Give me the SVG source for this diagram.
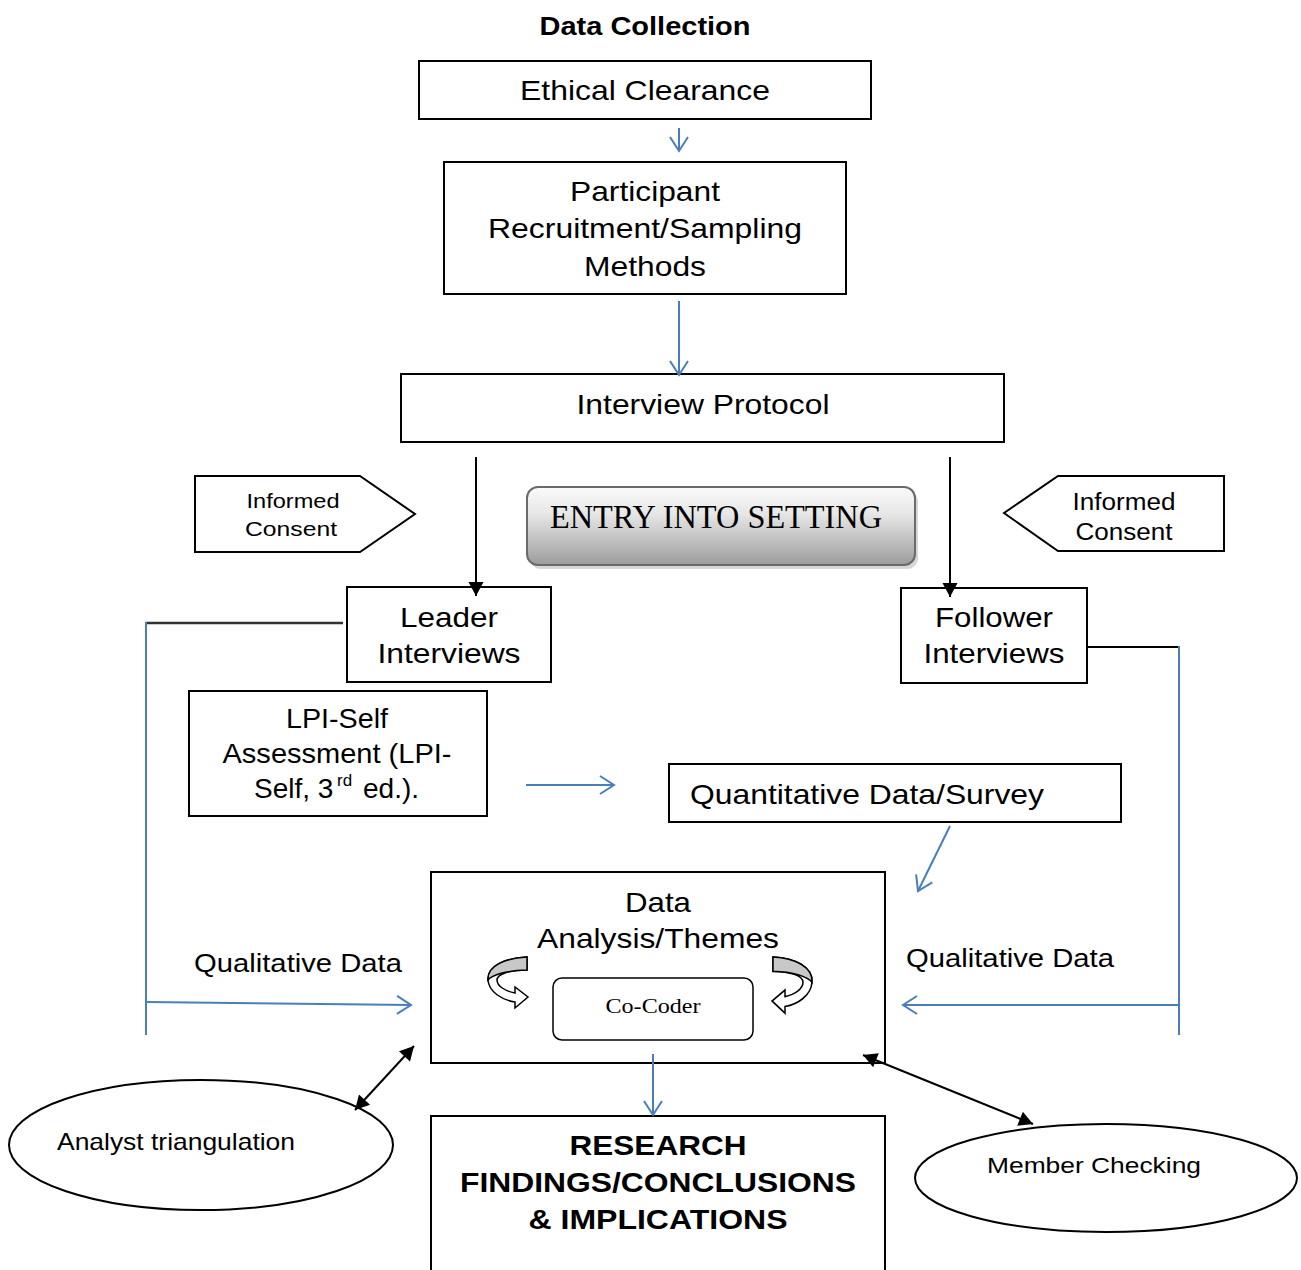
<svg xmlns="http://www.w3.org/2000/svg" width="1301" height="1270" viewBox="0 0 1301 1270">
<style>
  .box{fill:#fff;stroke:#000;stroke-width:2}
  .t{font-family:"Liberation Sans",Arial,sans-serif;fill:#000;text-anchor:middle}
  .b{font-weight:bold}
  .s{font-family:"Liberation Serif","Times New Roman",serif;fill:#000;text-anchor:middle}
  .blue{fill:none;stroke:#4a7ebb;stroke-width:2}
  .blk{fill:none;stroke:#000;stroke-width:2}
  .curl{fill:#fff;stroke:#000;stroke-width:1.5}
</style>
<defs>
  <marker id="openBlue" markerUnits="userSpaceOnUse" markerWidth="24" markerHeight="24" refX="15" refY="10" orient="auto" style="overflow:visible">
    <path d="M1,1 L15,10 L1,19" fill="none" stroke="#4a7ebb" stroke-width="2"/>
  </marker>
  <marker id="solidBlk" markerUnits="userSpaceOnUse" markerWidth="20" markerHeight="20" refX="14" refY="7.5" orient="auto-start-reverse" style="overflow:visible">
    <path d="M0,0 L14,7.5 L0,15 Z" fill="#000"/>
  </marker>
  <linearGradient id="entryGrad" x1="0" y1="0" x2="0" y2="1">
    <stop offset="0" stop-color="#fbfbfb"/>
    <stop offset="0.35" stop-color="#e6e6e6"/>
    <stop offset="1" stop-color="#9c9c9c"/>
  </linearGradient>
  <g id="curlArrow">
    <path class="curl" d="M527,957 C505,958 487,966 488,980 C489,992 502,1000 515,1002 L515,1008 L528,997 L515,987 L515,993 C505,991 497,986 497,980 C497,974 510,970 527,970 Z"/>
    <path d="M527,957 C505,958 487,966 488,980 C492,975 506,970.5 527,970 Z" fill="#c8c8c8" stroke="#000" stroke-width="1.5"/>
  </g>
</defs>

<text class="t b" x="645" y="35" font-size="26" textLength="211" lengthAdjust="spacingAndGlyphs">Data Collection</text>

<g id="ethical">
  <rect class="box" x="419" y="61" width="452" height="58"/>
  <text class="t" x="645" y="100" font-size="28" textLength="250" lengthAdjust="spacingAndGlyphs">Ethical Clearance</text>
</g>

<g id="participant">
  <rect class="box" x="444" y="162" width="402" height="132"/>
  <text class="t" x="645" y="201" font-size="28" textLength="150" lengthAdjust="spacingAndGlyphs">Participant</text>
  <text class="t" x="645" y="238" font-size="28" textLength="314" lengthAdjust="spacingAndGlyphs">Recruitment/Sampling</text>
  <text class="t" x="645" y="276" font-size="28" textLength="122" lengthAdjust="spacingAndGlyphs">Methods</text>
</g>

<g id="interview">
  <rect class="box" x="401" y="374" width="603" height="68"/>
  <text class="t" x="703" y="414" font-size="28" textLength="253" lengthAdjust="spacingAndGlyphs">Interview Protocol</text>
</g>

<g id="consentLeft">
  <polygon class="box" points="195,476 360,476 415,514 360,552 195,552"/>
  <text class="t" x="293" y="508" font-size="21" textLength="93" lengthAdjust="spacingAndGlyphs">Informed</text>
  <text class="t" x="291" y="536" font-size="21" textLength="92" lengthAdjust="spacingAndGlyphs">Consent</text>
</g>

<g id="consentRight">
  <polygon class="box" points="1004,513 1058,476 1224,476 1224,551 1058,551"/>
  <text class="t" x="1124" y="510" font-size="23" textLength="103" lengthAdjust="spacingAndGlyphs">Informed</text>
  <text class="t" x="1124" y="540" font-size="23" textLength="97" lengthAdjust="spacingAndGlyphs">Consent</text>
</g>

<g id="entry">
  <rect x="530" y="491" width="388" height="78" rx="11" fill="#bdbdbd" opacity="0.6"/>
  <rect x="527" y="487" width="388" height="78" rx="11" fill="url(#entryGrad)" stroke="#6a6a6a" stroke-width="2"/>
  <text class="s" x="716" y="528" font-size="34" textLength="332" lengthAdjust="spacingAndGlyphs">ENTRY INTO SETTING</text>
</g>

<g id="leader">
  <rect class="box" x="347" y="587" width="204" height="95"/>
  <text class="t" x="449" y="627" font-size="28" textLength="98" lengthAdjust="spacingAndGlyphs">Leader</text>
  <text class="t" x="449" y="663" font-size="28" textLength="143" lengthAdjust="spacingAndGlyphs">Interviews</text>
</g>

<g id="follower">
  <rect class="box" x="901" y="588" width="186" height="95"/>
  <text class="t" x="994" y="627" font-size="28" textLength="118" lengthAdjust="spacingAndGlyphs">Follower</text>
  <text class="t" x="994" y="663" font-size="28" textLength="141" lengthAdjust="spacingAndGlyphs">Interviews</text>
</g>

<g id="lpi">
  <rect class="box" x="189" y="691" width="298" height="125"/>
  <text class="t" x="337" y="728" font-size="28" textLength="102" lengthAdjust="spacingAndGlyphs">LPI-Self</text>
  <text class="t" x="337" y="763" font-size="28" textLength="229" lengthAdjust="spacingAndGlyphs">Assessment (LPI-</text>
  <text class="t" x="254" y="798" font-size="28" style="text-anchor:start">Self, 3</text>
  <text class="t" x="337" y="786" font-size="17" style="text-anchor:start">rd</text>
  <text class="t" x="363" y="798" font-size="28" style="text-anchor:start">ed.).</text>
</g>

<g id="quant">
  <rect class="box" x="669" y="764" width="452" height="58"/>
  <text class="t" x="867" y="804" font-size="28" textLength="354" lengthAdjust="spacingAndGlyphs">Quantitative Data/Survey</text>
</g>

<g id="qualLeft">
  <text class="t" x="298" y="972" font-size="26" textLength="208" lengthAdjust="spacingAndGlyphs">Qualitative Data</text>
</g>
<g id="qualRight">
  <text class="t" x="1010" y="967" font-size="26" textLength="208" lengthAdjust="spacingAndGlyphs">Qualitative Data</text>
</g>

<g id="analysis">
  <rect class="box" x="431" y="872" width="454" height="191"/>
  <text class="t" x="658" y="912" font-size="28" textLength="66" lengthAdjust="spacingAndGlyphs">Data</text>
  <text class="t" x="658" y="948" font-size="28" textLength="242" lengthAdjust="spacingAndGlyphs">Analysis/Themes</text>
  <use href="#curlArrow"/>
  <use href="#curlArrow" transform="translate(1300,957) scale(-1,1.1) translate(0,-957)"/>
</g>

<g id="cocoder">
  <rect x="553" y="978" width="200" height="62" rx="9" fill="#fff" stroke="#000" stroke-width="1.5"/>
  <text class="s" x="653" y="1013" font-size="22" textLength="95" lengthAdjust="spacingAndGlyphs">Co-Coder</text>
</g>

<g id="research">
  <rect class="box" x="431" y="1116" width="454" height="170"/>
  <text class="t b" x="658" y="1155" font-size="28" textLength="177" lengthAdjust="spacingAndGlyphs">RESEARCH</text>
  <text class="t b" x="658" y="1192" font-size="28" textLength="396" lengthAdjust="spacingAndGlyphs">FINDINGS/CONCLUSIONS</text>
  <text class="t b" x="658" y="1229" font-size="28" textLength="259" lengthAdjust="spacingAndGlyphs">&amp; IMPLICATIONS</text>
</g>

<g id="analyst">
  <ellipse cx="201" cy="1145" rx="192" ry="65" fill="#fff" stroke="#000" stroke-width="2"/>
  <text class="t" x="176" y="1150" font-size="24" textLength="238" lengthAdjust="spacingAndGlyphs">Analyst triangulation</text>
</g>

<g id="member">
  <ellipse cx="1106" cy="1178" rx="191" ry="54" fill="#fff" stroke="#000" stroke-width="2"/>
  <text class="t" x="1094" y="1173" font-size="22" textLength="214" lengthAdjust="spacingAndGlyphs">Member Checking</text>
</g>

<g id="connectors">
  <line class="blue" x1="679" y1="128" x2="679" y2="151" marker-end="url(#openBlue)"/>
  <line class="blue" x1="679" y1="301" x2="679" y2="375" marker-end="url(#openBlue)"/>
  <line class="blk" x1="476" y1="457" x2="476" y2="596" marker-end="url(#solidBlk)"/>
  <line class="blk" x1="950" y1="457" x2="950" y2="597" marker-end="url(#solidBlk)"/>
  <line x1="146" y1="623" x2="343" y2="623" stroke="#333" stroke-width="2.5"/>
  <line class="blue" x1="146" y1="622" x2="146" y2="1035"/>
  <line class="blue" x1="146" y1="1002" x2="411" y2="1005" marker-end="url(#openBlue)"/>
  <line x1="1087" y1="647" x2="1179" y2="647" stroke="#000" stroke-width="2"/>
  <line class="blue" x1="1179" y1="646" x2="1179" y2="1035"/>
  <line class="blue" x1="1179" y1="1005" x2="903" y2="1005" marker-end="url(#openBlue)"/>
  <line class="blue" x1="526" y1="785" x2="614" y2="785" marker-end="url(#openBlue)"/>
  <line class="blue" x1="950" y1="826" x2="918" y2="891" marker-end="url(#openBlue)"/>
  <line class="blue" x1="653" y1="1054" x2="653" y2="1115" marker-end="url(#openBlue)"/>
  <line class="blk" x1="355" y1="1110" x2="414" y2="1046" marker-start="url(#solidBlk)" marker-end="url(#solidBlk)"/>
  <line class="blk" x1="863" y1="1055" x2="1033" y2="1124" marker-start="url(#solidBlk)" marker-end="url(#solidBlk)"/>
</g>
</svg>
